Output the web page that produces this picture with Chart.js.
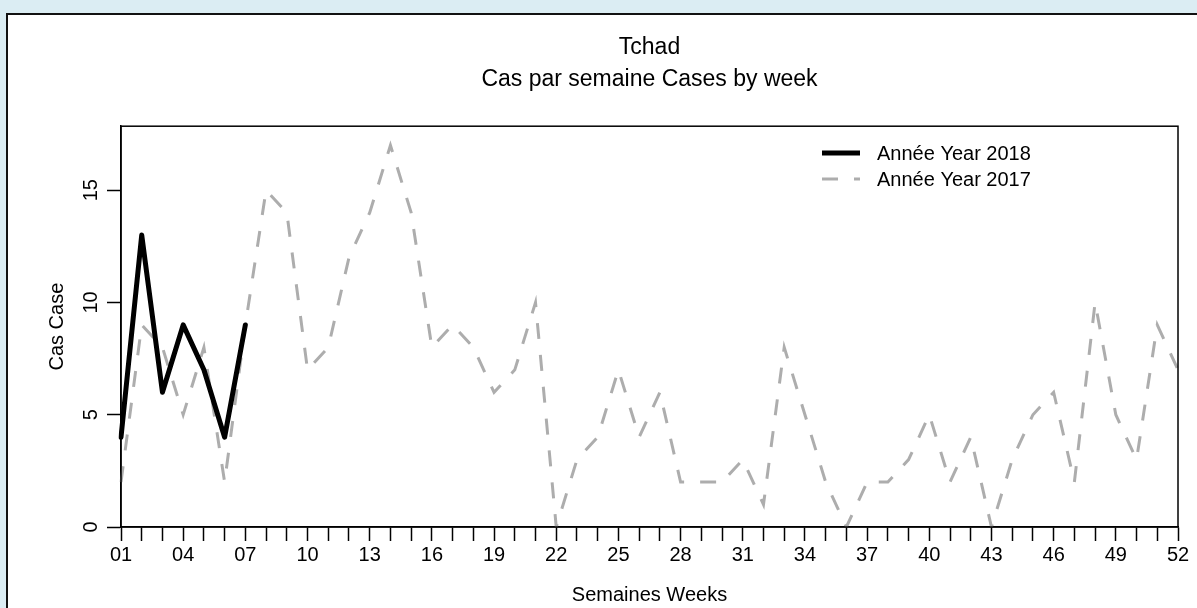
<!DOCTYPE html>
<html>
<head>
<meta charset="utf-8">
<script src="https://cdn.jsdelivr.net/npm/chart.js@4.4.0/dist/chart.umd.min.js"></script>
<style>
  html, body { margin: 0; padding: 0; overflow: hidden; background: #dbedf3; }
  #panel { position: absolute; left: 6px; top: 13px; width: 1300px; height: 700px; background: #fff; border: 2px solid #111; }
  #wrap { position: absolute; left: 0; top: 0; width: 1197px; height: 608px; }
</style>
</head>
<body>
<div id="panel"></div>
<div id="wrap"><canvas id="myChart" width="1197" height="608"></canvas></div>
<script>
const weeks = Array.from({ length: 52 }, (_, i) => String(i + 1).padStart(2, '0'));
const cases2018 = [4, 13, 6, 9, 7, 4, 9];
const cases2017 = [2, 9, 8, 5, 8, 2, 9, 15, 14, 7,
                   8, 12, 14, 17, 14, 8, 9, 8, 6, 7,
                   10, 0, 3, 4, 7, 4, 6, 2, 2, 2,
                   3, 1, 8, 5, 2, 0, 2, 2, 3, 5,
                   2, 4, 0, 3, 5, 6, 2, 10, 5, 3,
                   9, 7];
const yTicks = [0, 5, 10, 15];

const fontFamily = '"Liberation Sans", Arial, sans-serif';
const txt = (size) => ({ family: fontFamily, size: size, weight: 'normal' });

// box round the plot area, like R's box()
const boxPlugin = {
    id: 'box',
    afterDraw(chart) {
        const a = chart.chartArea;
        const c = chart.ctx;
        c.save();
        c.strokeStyle = '#000';
        c.lineWidth = 1.5;
        c.strokeRect(a.left, a.top, a.right - a.left, a.bottom - a.top);
        c.restore();
    }
};

// legend drawn inside the plot, top right
const insideLegend = {
    id: 'insideLegend',
    afterDraw(chart) {
        const c = chart.ctx;
        c.save();
        chart.data.datasets.forEach((ds, i) => {
            const y = 153 + i * 26;
            c.beginPath();
            c.setLineDash(ds.borderDash || []);
            c.lineWidth = ds.borderWidth;
            c.strokeStyle = ds.borderColor;
            c.lineCap = 'butt';
            c.moveTo(822, y);
            c.lineTo(860, y);
            c.stroke();
            c.setLineDash([]);
            c.fillStyle = '#000';
            c.font = '20px ' + fontFamily;
            c.textBaseline = 'middle';
            c.fillText(ds.label, 877, y + 1);
        });
        c.restore();
    }
};

let ctx = document.getElementById('myChart').getContext('2d');
var myChart = new Chart(ctx, {         //eslint-disable-line
    type: 'line',
    data: {
        labels: weeks,
        datasets: [{
            label: 'Année Year 2018',
            data: cases2018,
            borderColor: '#000000',
            borderWidth: 5,
            borderJoinStyle: 'round',
            borderCapStyle: 'round',
            pointRadius: 0
        }, {
            label: 'Année Year 2017',
            data: cases2017,
            borderColor: '#adadad',
            borderWidth: 3,
            borderDash: [16, 16],
            pointRadius: 0
        }]
    },
    options: {
        responsive: false,
        animation: false,
        layout: { padding: { left: 0, right: 19, top: 0, bottom: 0 } },
        plugins: {
            legend: { display: false },
            tooltip: { enabled: false },
            title: {
                display: true,
                fullSize: false,
                text: 'Tchad',
                color: '#000',
                font: txt(23),
                padding: { top: 34, bottom: 4 }
            },
            subtitle: {
                display: true,
                fullSize: false,
                text: 'Cas par semaine Cases by week',
                color: '#000',
                font: txt(23),
                padding: { top: 0, bottom: 33 }
            }
        },
        scales: {
            x: {
                ticks: {
                    autoSkip: false,
                    maxRotation: 0,
                    color: '#000',
                    font: txt(20),
                    padding: 2,
                    callback: function (val, i) {
                        return i % 3 === 0 ? this.getLabelForValue(val) : '';
                    }
                },
                grid: { drawOnChartArea: false, tickLength: 14, tickColor: '#000', tickWidth: 1.5 },
                border: { color: '#000', width: 1.5 },
                title: { display: true, text: 'Semaines Weeks', color: '#000', font: txt(20), padding: { top: 0, bottom: 1 } },
                afterFit: (s) => { s.height = 81; }
            },
            y: {
                min: 0,
                max: 17.85,
                ticks: {
                    stepSize: 5,
                    includeBounds: false,
                    minRotation: 90,
                    maxRotation: 90,
                    crossAlign: 'center',
                    padding: 4,
                    color: '#000',
                    font: txt(20),
                    callback: (v) => yTicks.includes(v) ? String(v) : ''
                },
                grid: { drawOnChartArea: false, tickLength: 14, tickColor: '#000', tickWidth: 1.5 },
                border: { color: '#000', width: 1.5 },
                title: { display: true, text: 'Cas Case', color: '#000', font: txt(20), padding: { top: 45, bottom: 0 } },
                afterFit: (s) => { s.width = 121; }
            }
        }
    },
    plugins: [boxPlugin, insideLegend]
});
</script>
</body>
</html>
